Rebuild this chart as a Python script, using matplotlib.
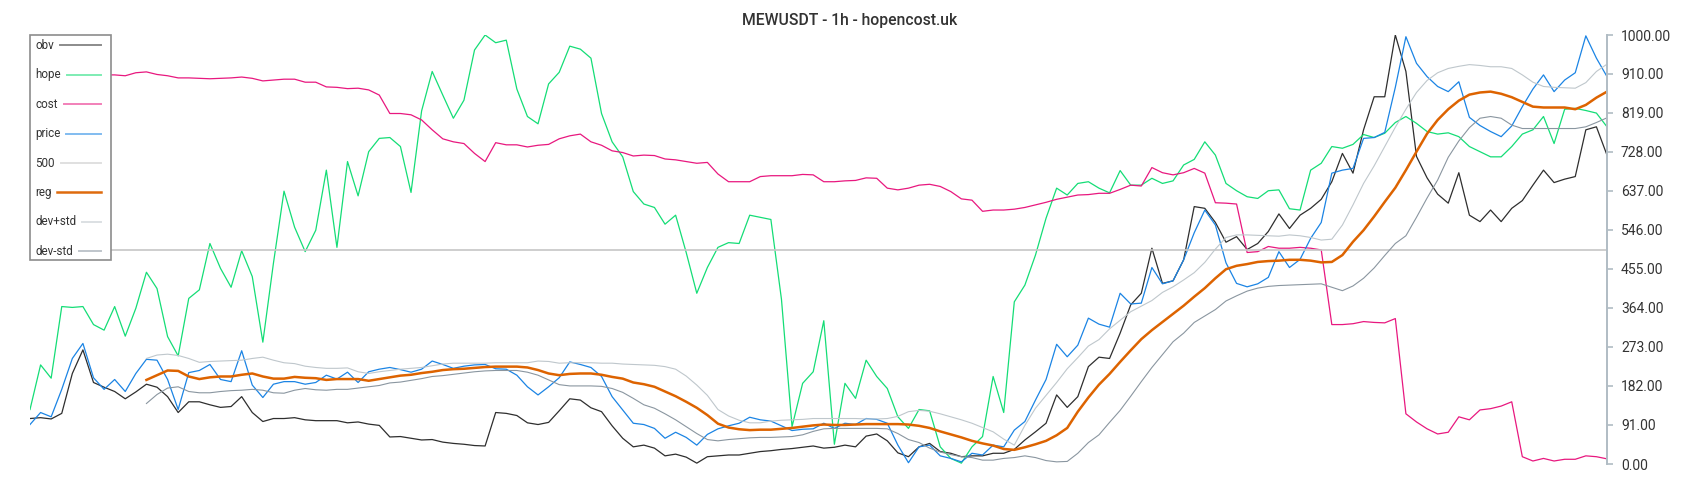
import numpy as np
import matplotlib
matplotlib.use("Agg")
import matplotlib.pyplot as plt
from matplotlib.lines import Line2D
from matplotlib.patches import Rectangle

plt.rcParams['font.family'] = ['Roboto', 'DejaVu Sans']

TITLE = "MEWUSDT - 1h - hopencost.uk"
hours = np.arange(150)

obv = [106, 108, 105, 118, 211, 266, 190, 179, 169, 152, 168, 186, 179, 157, 120, 145, 145, 138, 132, 134, 157, 120, 99, 106, 106, 108,
       103, 101, 101, 101, 96, 98, 93, 90, 63, 64, 60, 56, 57, 51, 48, 46, 43, 42, 120, 118, 113, 96, 92, 97, 124,
       152, 149, 131, 122, 89, 60, 40, 44, 37, 19, 23, 16, 2, 17, 19, 21, 21, 25, 29, 31, 34, 36, 39, 42, 37,
       39, 44, 40, 65, 70, 54, 26, 17, 40, 48, 29, 25, 17, 19, 19, 25, 25, 34, 56, 75, 95, 161, 132, 157, 227,
       249, 246, 305, 371, 398, 503, 421, 427, 476, 600, 596, 563, 517, 530, 500, 514, 542, 583, 549, 580, 596, 617, 658, 724, 678,
       779, 856, 856, 1000, 915, 717, 667, 629, 608, 679, 580, 565, 592, 565, 596, 614, 650, 685, 656, 664, 670, 779, 786, 720]

hope = [127, 231, 200, 367, 365, 367, 325, 312, 367, 298, 363, 447, 409, 297, 252, 386, 406, 514, 456, 412, 497, 437, 284, 468, 636, 552,
        495, 545, 685, 505, 705, 625, 728, 759, 761, 740, 633, 823, 915, 860, 806, 848, 965, 1000, 982, 988, 874, 810, 793, 886, 913,
        974, 967, 946, 817, 751, 716, 635, 606, 598, 559, 580, 493, 398, 458, 505, 516, 514, 580, 575, 570, 384, 87, 188, 215, 334,
        46, 188, 153, 242, 204, 176, 110, 83, 127, 124, 40, 13, 2, 40, 64, 204, 120, 378, 417, 487, 573, 643, 627, 654, 658,
        643, 632, 684, 650, 650, 666, 654, 660, 697, 710, 751, 720, 654, 637, 623, 619, 637, 639, 595, 592, 685, 701, 740, 736, 745,
        768, 761, 771, 796, 810, 794, 775, 769, 772, 763, 740, 728, 716, 716, 740, 769, 779, 810, 747, 827, 829, 824, 818, 786]

cost = [906, 906, 905, 904, 906, 908, 909, 907, 907, 905, 912, 914, 908, 905, 900, 900, 899, 898, 899, 900, 902, 899, 893, 895, 897, 897,
        890, 890, 879, 878, 875, 876, 872, 860, 817, 817, 814, 802, 779, 758, 751, 747, 724, 705, 749, 744, 744, 739, 743, 745, 758,
        765, 769, 751, 743, 730, 726, 718, 720, 719, 711, 709, 705, 701, 703, 676, 658, 658, 658, 670, 672, 672, 672, 675, 674, 658,
        658, 660, 661, 667, 666, 643, 639, 643, 650, 652, 647, 635, 618, 615, 589, 592, 592, 594, 598, 604, 610, 617, 622, 627, 628,
        631, 631, 640, 650, 648, 691, 679, 674, 679, 689, 678, 609, 608, 606, 493, 495, 507, 503, 503, 505, 503, 499, 325, 325, 327,
        332, 330, 329, 339, 117, 98, 82, 70, 74, 110, 103, 126, 129, 135, 145, 17, 7, 13, 7, 11, 11, 19, 17, 12]

price = [92, 120, 110, 174, 246, 281, 201, 174, 197, 169, 211, 244, 242, 197, 127, 213, 218, 232, 197, 192, 264, 184, 155, 186, 192, 192,
         186, 190, 207, 198, 214, 190, 215, 221, 225, 220, 214, 221, 240, 232, 223, 228, 231, 232, 222, 221, 207, 180, 161, 180, 201,
         238, 232, 225, 204, 157, 126, 95, 92, 83, 60, 74, 62, 44, 69, 82, 89, 95, 109, 103, 100, 89, 78, 81, 82, 95,
         83, 95, 92, 106, 104, 95, 44, 3, 40, 44, 19, 13, 5, 25, 21, 44, 40, 79, 99, 149, 197, 279, 250, 277, 340,
         326, 319, 398, 373, 375, 458, 420, 427, 476, 539, 592, 557, 469, 421, 413, 420, 435, 495, 458, 477, 526, 563, 678, 685, 689,
         759, 761, 773, 878, 996, 934, 903, 880, 868, 891, 808, 789, 775, 763, 788, 833, 874, 907, 868, 895, 912, 998, 946, 903]

LEVEL = 500
level = [LEVEL] * len(hours)

NA = np.nan
reg = [NA] * 11 + [196, 207, 218, 217, 204, 198, 202, 204, 204, 208, 211, 204, 199, 199, 203,
       201, 200, 196, 198, 198, 198, 194, 198, 202, 206, 208, 212, 215, 219, 221, 222, 224, 226, 227, 227, 227, 225, 219, 211, 207,
       210, 211, 211, 208, 203, 199, 190, 186, 180, 169, 158, 145, 131, 114, 94, 85, 81, 79, 80, 80, 82, 84, 87, 90, 92,
       91, 91, 92, 93, 93, 93, 93, 92, 89, 84, 76, 69, 62, 54, 48, 43, 35, 33, 39, 46, 54, 67, 84, 122, 155,
       185, 210, 238, 265, 291, 312, 331, 350, 369, 390, 410, 433, 454, 462, 466, 471, 473, 474, 476, 476, 474, 470, 471, 487, 518,
       545, 577, 611, 644, 685, 728, 770, 802, 827, 847, 861, 866, 868, 863, 855, 844, 833, 831, 831, 831, 827, 837, 854, 868]

dev_plus = [NA] * 11 + [246, 254, 256, 253, 246, 237, 239, 240, 241, 242, 246, 249, 242, 236, 234,
            228, 225, 223, 223, 224, 215, 211, 215, 218, 221, 223, 225, 229, 233, 235, 235, 235, 235, 236, 236, 236, 236, 240, 239, 235,
            236, 236, 236, 235, 235, 233, 232, 231, 230, 227, 221, 205, 184, 160, 127, 112, 102, 96, 96, 100, 102, 103, 104, 106, 106,
            106, 106, 106, 105, 105, 106, 111, 122, 125, 123, 117, 110, 103, 95, 85, 75, 58, 44, 90, 130, 160, 190, 222, 248, 275,
            290, 315, 335, 355, 368, 381, 400, 413, 429, 446, 470, 501, 528, 534, 534, 533, 532, 531, 534, 532, 528, 522, 524, 557, 604,
            654, 695, 740, 785, 827, 866, 894, 912, 922, 927, 931, 929, 926, 926, 922, 907, 890, 880, 878, 877, 876, 889, 915, 932]

dev_minus = [NA] * 11 + [141, 162, 177, 180, 169, 166, 166, 169, 171, 172, 174, 172, 166, 165, 172,
             176, 173, 172, 174, 174, 177, 180, 183, 189, 191, 195, 199, 204, 206, 209, 212, 215, 217, 218, 218, 218, 214, 207, 196, 185,
             182, 182, 182, 181, 176, 167, 153, 138, 130, 117, 103, 87, 71, 57, 54, 57, 59, 61, 62, 62, 63, 64, 68, 76, 82,
             83, 83, 83, 83, 83, 82, 71, 57, 50, 37, 28, 22, 17, 15, 9, 9, 13, 15, 19, 15, 8, 5, 6, 25, 50,
             68, 97, 125, 158, 192, 225, 255, 285, 305, 330, 345, 360, 380, 392, 403, 410, 414, 416, 417, 418, 419, 420, 412, 404, 415,
             433, 457, 486, 514, 532, 575, 620, 662, 715, 753, 784, 806, 810, 806, 790, 782, 782, 782, 782, 782, 782, 786, 796, 807]

yticks = [0, 91, 182, 273, 364, 455, 546, 637, 728, 819, 910, 1000]

series = [
    ("obv", obv, "#2e2e2e", 0.9),
    ("hope", hope, "#14dd76", 0.9),
    ("cost", cost, "#e8187f", 0.9),
    ("price", price, "#1b84e4", 0.9),
    ("500", level, "#c6c6c6", 1.2),
    ("reg", reg, "#dd6300", 1.8),
    ("dev+std", dev_plus, "#bfc7cc", 0.8),
    ("dev-std", dev_minus, "#8a96a0", 0.8),
]
for name, vals, col, lw in series:
    assert len(vals) == len(hours), name

W, H = 1700, 500
fig = plt.figure(figsize=(W / 100, H / 100), dpi=100)
ax = fig.add_axes([30 / W, 36 / H, 1577 / W, 429 / H])

for name, vals, col, lw in series:
    ax.plot(hours, vals, color=col, lw=lw, solid_joinstyle='round')

ax.set_xlim(hours[0], hours[-1])
ax.set_ylim(0, 1000)
for s in ("left", "top", "bottom"):
    ax.spines[s].set_visible(False)
ax.spines["right"].set_color("#b0bcc4")
ax.spines["right"].set_linewidth(1.4)
ax.set_xticks([])
ax.yaxis.tick_right()
ax.set_yticks(yticks)
ax.set_yticklabels([f"{v:.2f}" for v in yticks])
ax.tick_params(axis="y", length=4, width=1.2, color="#b0bcc4", labelcolor="#333333",
               labelsize=10, pad=6)

fig.text(850 / W, 1 - 20 / H, TITLE, ha="center", va="center", fontsize=11.3,
         fontweight="medium", color="#333333")

# legend box (manual)
def fx(px):
    return px / W

def fy(py):
    return 1 - py / H

rect = Rectangle((fx(30), fy(260)), 81 / W, 225 / H, transform=fig.transFigure,
                 facecolor="white", edgecolor="#8c8c8c", lw=1.2, zorder=10)
fig.add_artist(rect)
renderer = fig.canvas.get_renderer()
for k, (name, vals, col, lw) in enumerate(series):
    yy = 45.4 + k * 29.4
    t = fig.text(fx(35), fy(yy), name, ha="left", va="center", fontsize=8.4,
                 color="#333333", zorder=11)
    bb = t.get_window_extent(renderer=renderer)
    x0 = bb.x1 + 6
    alpha = 0.95 if name == "reg" else 0.55
    hl = 1.8 if name == "reg" else 1.4
    fig.add_artist(Line2D([x0 / W, fx(100.5)], [fy(yy), fy(yy)], transform=fig.transFigure,
                          color=col, lw=hl, alpha=alpha, zorder=11))

fig.savefig("out.png", dpi=100)
